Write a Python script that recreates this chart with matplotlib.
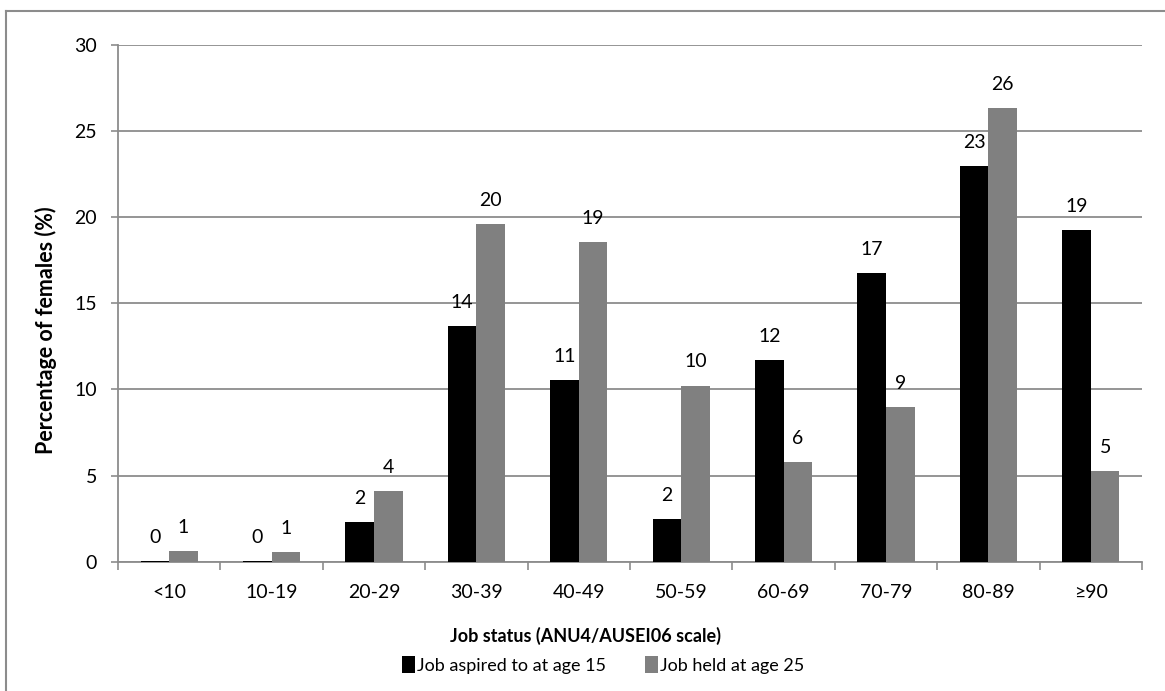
import matplotlib
matplotlib.use("Agg")
import matplotlib.pyplot as plt
import numpy as np
from matplotlib.lines import Line2D
from matplotlib.patches import Patch

categories = ["<10", "10-19", "20-29", "30-39", "40-49", "50-59", "60-69", "70-79", "80-89", "≥90"]
aspired = [0.05, 0.05, 2.32, 13.68, 10.53, 2.48, 11.69, 16.74, 22.95, 19.27]
held = [0.64, 0.55, 4.10, 19.58, 18.54, 10.22, 5.79, 8.96, 26.31, 5.26]
series_names = ["Job aspired to at age 15", "Job held at age 25"]
yticks = [0, 5, 10, 15, 20, 25, 30]

plt.rcParams['font.family'] = ['Lato', 'DejaVu Sans']

W, H = 1165, 691
fig = plt.figure(figsize=(W / 100, H / 100), dpi=100)
ax = fig.add_axes([118 / W, 1 - 561.7 / H, (1142 - 118) / W, (561.7 - 44.7) / H])

x = np.arange(len(categories))
bw = 0.28
b1 = ax.bar(x - bw / 2, aspired, bw, color="#000000", zorder=3)
b2 = ax.bar(x + bw / 2, held, bw, color="#808080", zorder=3)

for bars, vals in ((b1, aspired), (b2, held)):
    for rect, v in zip(bars, vals):
        ax.annotate(f"{round(v):d}", (rect.get_x() + rect.get_width() / 2, v),
                    xytext=(0, 17), textcoords="offset points",
                    ha="center", va="center", fontsize=14, color="black")

ax.set_xlim(-0.5, len(categories) - 0.5)
ax.set_ylim(0, 30)
ax.set_yticks(yticks)
ax.set_yticklabels([str(t) for t in yticks], fontsize=14)
ax.yaxis.grid(True, color="#8c8c8c", linewidth=1.3, zorder=0)
ax.set_axisbelow(True)

ax.set_xticks(np.arange(len(categories) + 1) - 0.5)
ax.set_xticklabels([])
ax.set_xticks(x, minor=True)
ax.set_xticklabels(categories, minor=True, fontsize=14)
ax.tick_params(axis="x", which="major", length=6, width=1.2, color="#8c8c8c", direction="out")
ax.tick_params(axis="x", which="minor", length=0, pad=16)
ax.tick_params(axis="y", length=5, width=1.2, color="#8c8c8c", direction="out", pad=10)

for s in ("top", "right"):
    ax.spines[s].set_visible(False)
for s in ("left", "bottom"):
    ax.spines[s].set_color("#8c8c8c")
    ax.spines[s].set_linewidth(1.3)

fig.text(585 / W, 1 - 636 / H, "Job status (ANU4/AUSEI06 scale)", ha="center", va="center",
         fontsize=13, fontweight="bold")
fig.text(46 / W, 1 - 330 / H, "Percentage of females (%)", ha="center", va="center",
         rotation=90, fontsize=15.5, fontweight="bold")

handles = [Patch(facecolor="#000000"), Patch(facecolor="#808080")]
fig.legend(handles, series_names, loc="center", bbox_to_anchor=(603 / W, 1 - 665 / H),
           ncol=2, frameon=False, fontsize=13, handlelength=0.72, handleheight=1.1,
           handletextpad=0.1, columnspacing=2.2)

# figure border (top and left visible)
fig.add_artist(Line2D([6 / W, 1], [1 - 11 / H, 1 - 11 / H], color="#8c8c8c", linewidth=1.5))
fig.add_artist(Line2D([6 / W, 6 / W], [0, 1 - 11 / H], color="#8c8c8c", linewidth=1.5))

fig.savefig("out.png", dpi=100)
